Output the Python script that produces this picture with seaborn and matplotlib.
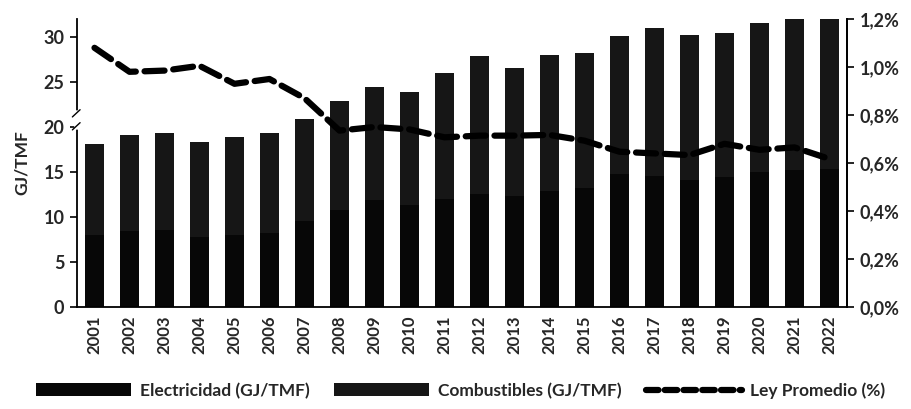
import numpy as np
import pandas as pd
import seaborn as sns
import matplotlib
matplotlib.use("Agg")
import matplotlib.pyplot as plt
from matplotlib.ticker import FixedLocator, FuncFormatter, MultipleLocator
from matplotlib.patches import Patch
from matplotlib.lines import Line2D

years = [str(y) for y in range(2001, 2023)]
electricidad = [8.0, 8.5, 8.6, 7.8, 8.0, 8.2, 9.6, 10.8, 11.9, 11.3, 12.0,
                12.6, 12.3, 12.9, 13.2, 14.8, 14.6, 14.1, 14.4, 15.0, 15.2, 15.3]
combustibles = [10.1, 10.6, 10.7, 10.5, 10.9, 11.1, 11.3, 12.1, 12.6, 12.6, 14.0,
                15.3, 14.3, 15.1, 15.0, 15.3, 16.4, 16.1, 16.0, 16.6, 16.8, 16.7]
ley_promedio = [1.08, 0.98, 0.985, 1.005, 0.93, 0.95, 0.87, 0.735, 0.75, 0.74, 0.707,
                0.714, 0.714, 0.717, 0.693, 0.647, 0.64, 0.633, 0.68, 0.655, 0.665, 0.617]

sns.set_style("white")
plt.rcParams['font.family'] = ['Lato', 'DejaVu Sans']
plt.rcParams['font.weight'] = 'bold'

elec_color = "#070707"
comb_color = "#161616"

df = pd.DataFrame({"year": years, "elec": electricidad, "comb": combustibles, "ley": ley_promedio})
df["total"] = df["elec"] + df["comb"]
df["pos"] = np.arange(len(df))

fig = plt.figure(figsize=(9.12, 4.09), dpi=100)
ax = fig.add_axes([77/912, 1-307/409, (847-77)/912, (307-19)/409])

sns.barplot(data=df, x="year", y="total", color=comb_color, saturation=1, width=0.52,
            linewidth=0, edgecolor='none', ax=ax)
sns.barplot(data=df, x="year", y="elec", color=elec_color, saturation=1, width=0.52,
            linewidth=0, edgecolor='none', ax=ax)

ax.set_xlim(-0.5, len(years) - 0.5)
ax.set_ylim(0, 32)
ax.yaxis.set_major_locator(MultipleLocator(5))
ax.set_xlabel("")
ax.set_ylabel("GJ/TMF", fontsize=12.5, fontweight='bold', labelpad=10)
ax.tick_params(axis='x', which='major', length=0, labelsize=12, rotation=90, pad=6)
ax.xaxis.set_minor_locator(FixedLocator(np.arange(-0.5, len(years), 1.0)))
ax.tick_params(axis='x', which='minor', length=6, width=1.2, direction='out', color='black')
ax.tick_params(axis='y', length=5, width=1.2, direction='out', labelsize=13, color='black', pad=4)
for lab in ax.get_xticklabels() + ax.get_yticklabels():
    lab.set_fontweight('bold')

for s in ['left', 'bottom', 'right']:
    ax.spines[s].set_visible(True)
    ax.spines[s].set_color('black')
    ax.spines[s].set_linewidth(1.3)
ax.spines['top'].set_visible(False)

ax2 = ax.twinx()
sns.lineplot(data=df, x="pos", y="ley", ax=ax2, color='black', linewidth=4.5,
             linestyle=(0, (3.2, 1.4)), dash_capstyle='round')
ax2.set_ylim(0, 1.2)
ax2.yaxis.set_major_locator(MultipleLocator(0.2))
ax2.yaxis.set_major_formatter(FuncFormatter(lambda v, p: f"{v:.1f}%".replace('.', ',')))
ax2.set_ylabel("")
ax2.set_xlabel("")
ax2.tick_params(axis='y', length=5, width=1.2, direction='out', labelsize=13, color='black', pad=4)
for lab in ax2.get_yticklabels():
    lab.set_fontweight('bold')
for s in ['top', 'left', 'bottom']:
    ax2.spines[s].set_visible(False)
ax2.spines['right'].set_color('black')
ax2.spines['right'].set_linewidth(1.3)
ax2.set_xlim(-0.5, len(years) - 0.5)

# axis break mark on left spine
ax.plot([0, 0], [0.625, 0.675], transform=ax.transAxes, color='white', lw=4, clip_on=False, zorder=5)
ax.plot([-0.006, 0.004], [0.615, 0.64], transform=ax.transAxes, color='black', lw=1.0, clip_on=False, zorder=6)
ax.plot([-0.006, 0.004], [0.66, 0.685], transform=ax.transAxes, color='black', lw=1.0, clip_on=False, zorder=6)

handles = [Patch(facecolor=elec_color, edgecolor='none', label='Electricidad (GJ/TMF)'),
           Patch(facecolor=comb_color, edgecolor='none', label='Combustibles (GJ/TMF)'),
           Line2D([0], [0], color='black', lw=4.5, linestyle=(0, (2.0, 1.0)), dash_capstyle='round',
                  label='Ley Promedio (%)')]
fig.legend(handles=handles, loc='center', bbox_to_anchor=(0.505, 0.045), ncol=3, frameon=False,
           handlelength=5.5, handleheight=0.8, columnspacing=1.4, handletextpad=0.5,
           prop={'weight': 'bold', 'size': 12.5})

fig.savefig("out.png", dpi=100, facecolor='white')
